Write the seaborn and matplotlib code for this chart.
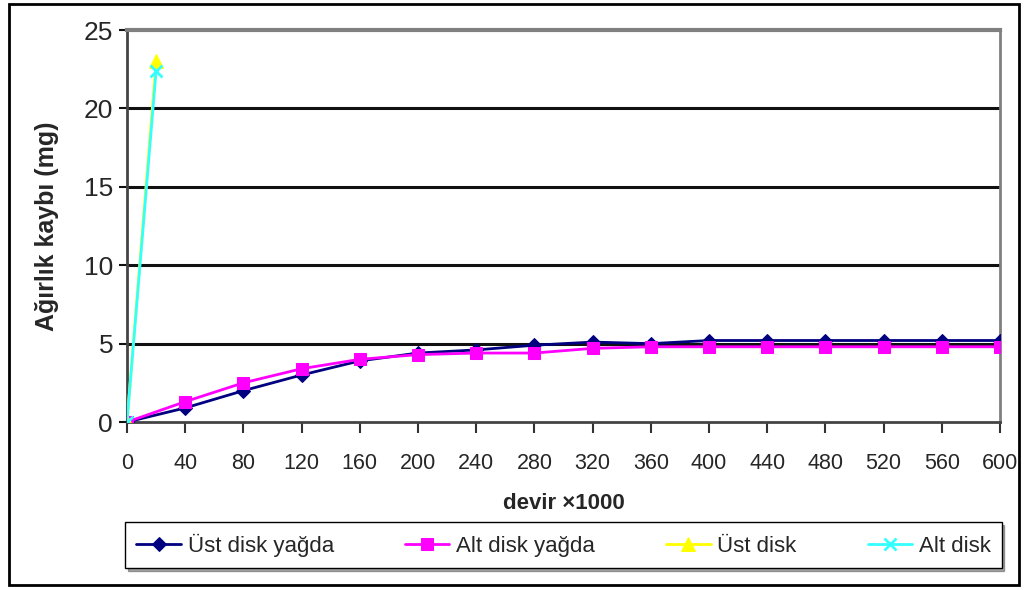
import numpy as np
import pandas as pd
import matplotlib
matplotlib.use('Agg')
import matplotlib.pyplot as plt
import seaborn as sns
from matplotlib.patches import Rectangle

# Values
devir = [0, 40, 80, 120, 160, 200, 240, 280, 320, 360, 400, 440, 480, 520, 560, 600]
ust_yagda = [0, 0.9, 2.0, 3.0, 3.9, 4.4, 4.6, 4.9, 5.1, 5.0, 5.2, 5.2, 5.2, 5.2, 5.2, 5.2]
alt_yagda = [0, 1.3, 2.5, 3.4, 4.0, 4.3, 4.4, 4.4, 4.7, 4.8, 4.8, 4.8, 4.8, 4.8, 4.8, 4.8]
devir_kuru = [0, 20]
ust_kuru = [0, 23.0]
alt_kuru = [0, 22.4]
y_ticks = [0, 5, 10, 15, 20, 25]

sns.set_theme(style='white')
plt.rcParams['font.family'] = ['Liberation Sans', 'DejaVu Sans']

fig = plt.figure(figsize=(10.3, 5.9), dpi=100)
ax = fig.add_axes([0.1233, 0.2847, 0.8476, 0.6643])

# Gridlines
for yv in y_ticks[1:-1]:
    ax.axhline(yv, color='#111111', lw=2.2, zorder=1)

sns.lineplot(x=devir, y=ust_yagda, ax=ax, color='#000080', marker='D', markersize=7,
             markeredgecolor='#000080', lw=2, label='Üst disk yağda', zorder=4)
sns.lineplot(x=devir, y=alt_yagda, ax=ax, color='#FF00FF', marker='s', markersize=9,
             markeredgecolor='#FF00FF', lw=2, label='Alt disk yağda', zorder=5)
sns.lineplot(x=devir_kuru, y=ust_kuru, ax=ax, color='#FFFF00', marker='^', markersize=10,
             markeredgecolor='#FFFF00', lw=2, label='Üst disk', zorder=6)
sns.lineplot(x=devir_kuru, y=alt_kuru, ax=ax, color='#33FFFF', marker='x', markersize=9,
             markeredgecolor='#33FFFF', markeredgewidth=2, lw=2, label='Alt disk', zorder=7)

ax.set_xlim(0, 600)
ax.set_ylim(0, 25)
ax.set_xticks(devir)
ax.set_yticks(y_ticks)
ax.tick_params(axis='x', labelsize=15.5, length=8, width=1.5, color='#333333',
               direction='out', bottom=True, pad=14)
ax.tick_params(axis='y', labelsize=19, length=6, width=1.5, color='#111111',
               direction='out', left=True, pad=4)

for side in ['left', 'bottom']:
    ax.spines[side].set_color('#444444')
    ax.spines[side].set_linewidth(2)
for side in ['top', 'right']:
    ax.spines[side].set_color('#808080')
    ax.spines[side].set_linewidth(2)
ax.spines['top'].set_linewidth(3)

ax.set_xlabel('devir ×1000', fontsize=16, fontweight='bold', labelpad=14)
ax.set_ylabel('Ağırlık kaybı (mg)', fontsize=18, fontweight='bold', labelpad=18)

ax.legend(loc='upper center', bbox_to_anchor=(0.5, -0.228), ncol=4, fontsize=16,
          frameon=True, fancybox=False, shadow=True, edgecolor='black',
          handlelength=2.0, columnspacing=3.2, handletextpad=0.3, borderpad=0.5)

# Outer frame
fig.patches.append(Rectangle((0.009, 0.008), 0.98, 0.985, transform=fig.transFigure,
                             fill=False, edgecolor='black', lw=2))

plt.savefig('out.png', dpi=100)
plt.close()
